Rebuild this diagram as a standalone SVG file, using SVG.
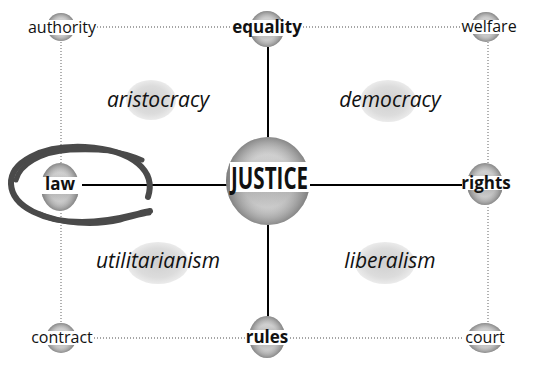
<svg xmlns="http://www.w3.org/2000/svg" width="544" height="366" viewBox="0 0 544 366">
<defs>
<linearGradient id="sphv" x1="0" y1="0" x2="0" y2="1">
<stop offset="0" stop-color="#e6e6e6"/>
<stop offset="0.25" stop-color="#d4d4d4"/>
<stop offset="0.5" stop-color="#a8a8a8"/>
<stop offset="0.78" stop-color="#cfcfcf"/>
<stop offset="1" stop-color="#ededed"/>
</linearGradient>
<radialGradient id="sphr" cx="50%" cy="50%" r="50%">
<stop offset="0" stop-color="#888" stop-opacity="0"/>
<stop offset="0.6" stop-color="#888" stop-opacity="0.1"/>
<stop offset="1" stop-color="#6a6a6a" stop-opacity="0.75"/>
</radialGradient>
<radialGradient id="reg" cx="50%" cy="50%" r="50%">
<stop offset="0" stop-color="#d0d0d0"/>
<stop offset="0.7" stop-color="#dcdcdc"/>
<stop offset="1" stop-color="#ebebeb"/>
</radialGradient>
<style>
.s{fill:url(#sphv)}
.o{fill:url(#sphr)}
.r{fill:url(#reg)}
.bg{fill:#fff}
.t{font-family:"Open Sans","DejaVu Sans",sans-serif;font-size:16px;fill:#111;text-anchor:middle}
.b{font-weight:bold;font-size:17px}
.i{font-style:italic;font-size:21px}
.solid{stroke:#000;stroke-width:2;fill:none}
.dot{stroke:#888;stroke-width:1.3;stroke-dasharray:1 2;fill:none}
</style>
</defs>
<rect width="544" height="366" fill="#fff"/>

<g id="connectors">
<line class="dot" x1="97" y1="27" x2="232" y2="27"/>
<line class="dot" x1="303" y1="27" x2="461" y2="27"/>
<line class="dot" x1="61" y1="42" x2="61" y2="165"/>
<line class="dot" x1="61" y1="210" x2="61" y2="323"/>
<line class="dot" x1="488" y1="42" x2="488" y2="164"/>
<line class="dot" x1="488" y1="207" x2="488" y2="323"/>
<line class="dot" x1="94" y1="338" x2="246" y2="338"/>
<line class="dot" x1="290" y1="338" x2="464" y2="338"/>
<line class="solid" x1="268" y1="47" x2="268" y2="140"/>
<line class="solid" x1="268" y1="224" x2="268" y2="318"/>
<line class="solid" x1="82" y1="185" x2="228" y2="185"/>
<line class="solid" x1="310" y1="185" x2="462" y2="185"/>
</g>

<g id="aristocracy">
<ellipse class="r" cx="151" cy="100" rx="25" ry="20"/>
<text class="t i" x="158" y="107">aristocracy</text>
</g>
<g id="democracy">
<ellipse class="r" cx="388" cy="101" rx="28" ry="21"/>
<text class="t i" x="390" y="107">democracy</text>
</g>
<g id="utilitarianism">
<ellipse class="r" cx="158" cy="263" rx="31" ry="21"/>
<text class="t i" x="158" y="268">utilitarianism</text>
</g>
<g id="liberalism">
<ellipse class="r" cx="385" cy="263" rx="30" ry="21"/>
<text class="t i" x="390" y="268">liberalism</text>
</g>

<g id="authority">
<circle class="s" cx="61" cy="27" r="14"/><circle class="o" cx="61" cy="27" r="14"/>
<rect class="bg" x="28" y="20" width="69" height="15"/>
<text class="t" x="62" y="33">authority</text>
</g>
<g id="equality">
<ellipse class="s" cx="267" cy="29" rx="17" ry="18"/><ellipse class="o" cx="267" cy="29" rx="17" ry="18"/>
<rect class="bg" x="233" y="20" width="69" height="16"/>
<text class="t b" x="267" y="33">equality</text>
</g>
<g id="welfare">
<circle class="s" cx="486" cy="27" r="15"/><circle class="o" cx="486" cy="27" r="15"/>
<rect class="bg" x="462" y="20" width="54" height="14"/>
<text class="t" x="489" y="32">welfare</text>
</g>
<g id="law">
<ellipse class="s" cx="60" cy="187" rx="19" ry="24"/><ellipse class="o" cx="60" cy="187" rx="19" ry="24"/>
<rect class="bg" x="41" y="177" width="38" height="17"/>
<text class="t b" x="60" y="190">law</text>
</g>
<g id="justice">
<ellipse class="s" cx="268" cy="181" rx="42" ry="44"/><ellipse class="o" cx="268" cy="181" rx="42" ry="44"/>
<rect class="bg" x="230" y="162" width="80" height="30"/>
<text class="t b" x="269.5" y="189" style="font-size:30px" textLength="77" lengthAdjust="spacingAndGlyphs">JUSTICE</text>
</g>
<g id="rights">
<ellipse class="s" cx="485" cy="184" rx="18" ry="21"/><ellipse class="o" cx="485" cy="184" rx="18" ry="21"/>
<rect class="bg" x="462" y="176" width="48" height="14"/>
<text class="t b" x="486" y="189">rights</text>
</g>
<g id="contract">
<circle class="s" cx="61" cy="338" r="15"/><circle class="o" cx="61" cy="338" r="15"/>
<rect class="bg" x="32" y="331" width="61" height="14"/>
<text class="t" x="62" y="343">contract</text>
</g>
<g id="rules">
<ellipse class="s" cx="267" cy="337" rx="18" ry="21"/><ellipse class="o" cx="267" cy="337" rx="18" ry="21"/>
<rect class="bg" x="246" y="330" width="43" height="15"/>
<text class="t b" x="267" y="343">rules</text>
</g>
<g id="court">
<ellipse class="s" cx="485" cy="338" rx="18" ry="15"/><ellipse class="o" cx="485" cy="338" rx="18" ry="15"/>
<rect class="bg" x="466" y="331" width="38" height="14"/>
<text class="t" x="485" y="343">court</text>
</g>

<g id="swoosh" fill="none" stroke="#4a4a4a" stroke-linecap="round">
<path stroke-width="6" d="M148,197 C156,172 135,150 85,147 C40,145 10,163 11,184 C12,207 45,222 82,222 C112,222 135,214 150,211"/>
<path stroke-width="5" d="M142,160 C120,150 100,149 70,150 C40,152 20,165 16,180"/>
<path stroke-width="5" d="M40,214 C60,224 95,226 120,220 C135,216 145,213 149,213"/>
</g>
</svg>
